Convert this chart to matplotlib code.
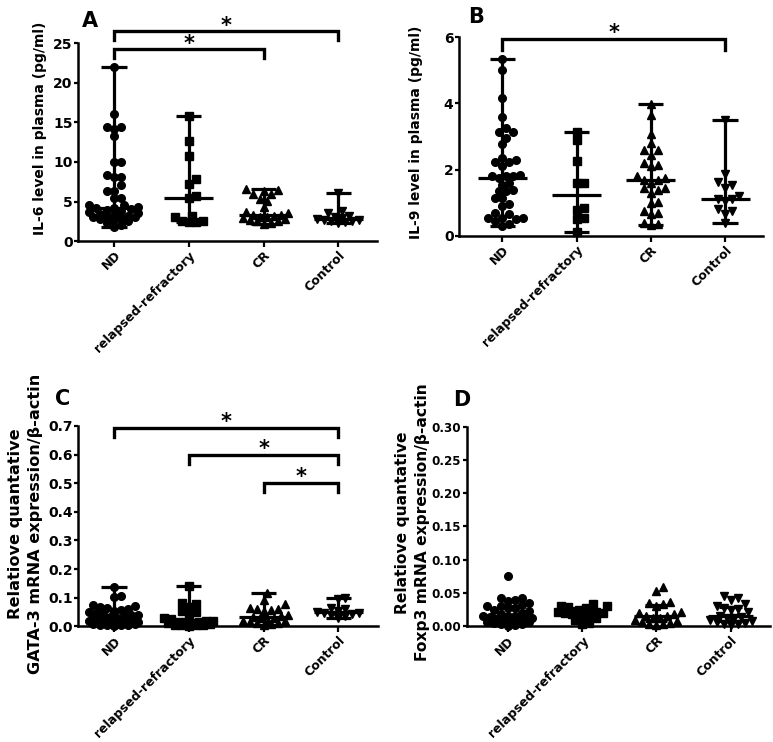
import numpy as np
import matplotlib.pyplot as plt

plt.rcParams['font.family'] = ['DejaVu Sans']
plt.rcParams['font.weight'] = 'bold'
plt.rcParams['axes.labelweight'] = 'bold'

groups = ["ND", "relapsed-refractory", "CR", "Control"]
markers = ["o", "s", "^", "v"]

# panel A: IL-6 (pg/ml)
il6_nd = [22.0, 16.1, 14.4, 14.4, 14.2, 13.3, 10.0, 10.0, 8.3, 8.1, 8.1, 7.1,
          6.35, 6.35, 5.5, 5.4, 4.6, 4.5, 4.3, 4.2, 4.2, 4.0, 3.9, 3.8, 3.7,
          3.5, 3.4, 3.3, 3.2, 3.0, 3.0, 3.0, 2.9, 2.8, 2.7, 2.5, 2.3, 2.0, 1.8]
il6_rr = [15.8, 12.7, 10.7, 7.8, 7.2, 5.7, 5.4, 3.2, 3.1, 2.6, 2.5, 2.4, 2.4]
il6_cr = [6.6, 6.5, 6.3, 5.9, 5.9, 5.3, 5.1, 4.3, 3.7, 3.5, 3.3, 3.3, 3.2,
          3.1, 3.0, 2.9, 2.8, 2.7, 2.6, 2.5, 2.3, 2.2]
il6_ctl = [6.1, 3.8, 3.6, 3.2, 3.1, 2.9, 2.8, 2.7, 2.7, 2.6, 2.5, 2.4, 2.3]

# panel B: IL-9 (pg/ml)
il9_nd = [5.35, 5.02, 4.17, 3.58, 3.27, 3.15, 3.15, 2.97, 2.77, 2.35, 2.3,
          2.22, 2.22, 2.12, 1.85, 1.8, 1.8, 1.8, 1.75, 1.6, 1.55, 1.4, 1.35,
          1.35, 1.15, 1.15, 0.95, 0.9, 0.7, 0.65, 0.55, 0.55, 0.55, 0.5, 0.45,
          0.35, 0.3]
il9_rr = [3.15, 2.9, 2.25, 1.6, 1.6, 0.85, 0.78, 0.55, 0.5, 0.12]
il9_cr = [3.97, 3.65, 3.07, 2.8, 2.6, 2.6, 2.44, 2.2, 2.14, 2.1, 1.8, 1.75,
          1.7, 1.7, 1.6, 1.45, 1.45, 1.4, 1.3, 1.03, 1.0, 0.75, 0.7, 0.65,
          0.4, 0.35, 0.33]
il9_ctl = [3.5, 1.87, 1.62, 1.55, 1.44, 1.2, 1.13, 1.1, 1.05, 0.8, 0.75, 0.65, 0.38]

# panel C: GATA-3 mRNA / beta-actin
gata_nd = [0.137, 0.105, 0.103, 0.075, 0.07, 0.068, 0.065, 0.06, 0.058, 0.055,
           0.05, 0.045, 0.042, 0.04, 0.038, 0.035, 0.033, 0.03, 0.03, 0.028,
           0.027, 0.025, 0.024, 0.022, 0.02, 0.02, 0.018, 0.016, 0.015, 0.013,
           0.012, 0.01, 0.009, 0.008, 0.007, 0.006, 0.005, 0.004, 0.003, 0.002]
gata_rr = [0.14, 0.082, 0.078, 0.068, 0.055, 0.05, 0.035, 0.03, 0.025, 0.02,
           0.018, 0.016, 0.015, 0.014, 0.012, 0.01, 0.008, 0.006, 0.005, 0.004,
           0.003, 0.002]
gata_cr = [0.115, 0.093, 0.077, 0.065, 0.062, 0.06, 0.058, 0.055, 0.04, 0.035,
           0.033, 0.03, 0.028, 0.025, 0.02, 0.018, 0.015, 0.012, 0.01, 0.008, 0.006]
gata_ctl = [0.1, 0.095, 0.065, 0.06, 0.055, 0.05, 0.048, 0.045, 0.042, 0.04,
            0.035, 0.03]

# panel D: Foxp3 mRNA / beta-actin
foxp3_nd = [0.076, 0.043, 0.042, 0.04, 0.038, 0.035, 0.032, 0.03, 0.03, 0.028,
            0.027, 0.025, 0.023, 0.02, 0.018, 0.016, 0.015, 0.015, 0.014, 0.013,
            0.012, 0.011, 0.01, 0.009, 0.008, 0.007, 0.006, 0.005, 0.004, 0.003,
            0.002, 0.001]
foxp3_rr = [0.033, 0.031, 0.03, 0.029, 0.027, 0.025, 0.022, 0.021, 0.02, 0.02,
            0.019, 0.018, 0.016, 0.012, 0.009, 0.005, 0.003]
foxp3_cr = [0.059, 0.053, 0.036, 0.035, 0.034, 0.031, 0.022, 0.02, 0.018, 0.016,
            0.015, 0.013, 0.012, 0.01, 0.008, 0.006, 0.005, 0.004, 0.003, 0.002]
foxp3_ctl = [0.046, 0.043, 0.039, 0.034, 0.031, 0.028, 0.026, 0.024, 0.022,
             0.016, 0.014, 0.013, 0.012, 0.01, 0.008, 0.007, 0.005, 0.004,
             0.003, 0.002]

yticks_a = [0, 5, 10, 15, 20, 25]
yticks_b = [0, 2, 4, 6]
yticks_c = [0.0, 0.1, 0.2, 0.3, 0.4, 0.5, 0.6, 0.7]
yticks_d = [0.00, 0.05, 0.10, 0.15, 0.20, 0.25, 0.30]

# significance brackets: (group i, group j)
sig_a = [(0, 3), (0, 2)]
sig_b = [(0, 3)]
sig_c = [(0, 3), (1, 3), (2, 3)]


def swarm_x(ax, pos, vals, diam=7.0, max_off=25.0):
    # greedy beeswarm in pixel space, limited width (points may overlap)
    vals = np.asarray(vals)
    step = diam * 0.5
    cands = [0.0]
    k = 1
    while k * step <= max_off:
        cands += [k * step, -k * step]
        k += 1
    placed = []
    offs = np.zeros(len(vals))
    for idx in np.argsort(vals):
        yd = ax.transData.transform((pos, vals[idx]))[1]
        best, best_d = 0.0, -1
        for c in cands:
            d = min([np.hypot(c - px, yd - py) for px, py in placed] or [99])
            if d >= diam:
                best = c
                break
            if d > best_d:
                best, best_d = c, d
        placed.append((best, yd))
        offs[idx] = best
    ppu = ax.transData.transform((1, 0))[0] - ax.transData.transform((0, 0))[0]
    return pos + offs / ppu


def draw_panel(ax, data, yticks, fmt, ylabel, xlim, iqr=False, sig=(),
               sig_levels=(), leg=0.045, label_size=10.0, tick_size=10):
    ax.set_xlim(*xlim)
    ax.set_ylim(yticks[0], yticks[-1])
    for i, vals in enumerate(data):
        xs = swarm_x(ax, i, vals)
        ax.plot(xs, vals, ls='none', marker=markers[i], ms=5.5, color='black',
                clip_on=False, zorder=3)
        med = np.median(vals)
        if iqr:
            lo, hi = np.percentile(vals, [25, 75])
            cw, mw = 0.15, 0.3
        else:
            lo, hi = min(vals), max(vals)
            cw, mw = 0.17, 0.33
        kw = dict(color='black', lw=2.3, solid_capstyle='butt', zorder=4, clip_on=False)
        ax.plot([i, i], [lo, hi], **kw)
        ax.plot([i - cw, i + cw], [hi, hi], **kw)
        ax.plot([i - cw, i + cw], [lo, lo], **kw)
        ax.plot([i - mw, i + mw], [med, med], **kw)

    top = yticks[-1]
    for (a, b), lev in zip(sig, sig_levels):
        y = lev * top
        ax.plot([a, a, b, b], [y - leg * top, y, y, y - leg * top], color='black',
                lw=2.4, clip_on=False, solid_joinstyle='miter')
        ax.text((a + b) / 2, y - 0.022 * top, '*', ha='center', va='bottom',
                fontsize=15, fontweight='bold')

    ax.set_xticks(range(len(groups)))
    ax.set_xticklabels(groups, rotation=45, ha='right', rotation_mode='anchor',
                       fontsize=9)
    ax.set_yticks(yticks)
    ax.set_yticklabels([fmt.format(t) for t in yticks], fontsize=tick_size)
    ax.set_ylabel(ylabel, fontsize=label_size, linespacing=1.45)
    ax.spines['top'].set_visible(False)
    ax.spines['right'].set_visible(False)
    ax.spines['left'].set_linewidth(1.8)
    ax.spines['bottom'].set_linewidth(1.8)
    ax.tick_params(axis='y', direction='out', width=1.6, length=3, pad=1)
    ax.tick_params(axis='x', direction='out', width=1.6, length=4, pad=1.5)


fig = plt.figure(figsize=(7.73, 7.42), dpi=100)

axA = fig.add_axes([0.101, 0.675, 0.387, 0.267])
draw_panel(axA, [il6_nd, il6_rr, il6_cr, il6_ctl], yticks_a, '{:.0f}',
           'IL-6 level in plasma (pg/ml)', (-0.48, 3.52),
           sig=sig_a, sig_levels=[1.06, 0.968])
axA.yaxis.set_label_coords(-0.104, 0.57)

axB = fig.add_axes([0.594, 0.682, 0.393, 0.268])
draw_panel(axB, [il9_nd, il9_rr, il9_cr, il9_ctl], yticks_b, '{:.0f}',
           'IL-9 level in plasma (pg/ml)', (-0.58, 3.51),
           sig=sig_b, sig_levels=[0.99], leg=0.055)
axB.yaxis.set_label_coords(-0.118, 0.52)

axC = fig.add_axes([0.101, 0.156, 0.388, 0.270])
draw_panel(axC, [gata_nd, gata_rr, gata_cr, gata_ctl], yticks_c, '{:.1f}',
           'Relatiove quantative\nGATA-3 mRNA expression/\u03b2-actin',
           (-0.48, 3.53), sig=sig_c, sig_levels=[0.99, 0.855, 0.715],
           label_size=11.6)
axC.yaxis.set_label_coords(-0.117, 0.51)

axD = fig.add_axes([0.604, 0.156, 0.392, 0.269])
draw_panel(axD, [foxp3_nd, foxp3_rr, foxp3_cr, foxp3_ctl], yticks_d, '{:.2f}',
           'Relatiove quantative\nFoxp3 mRNA expression/\u03b2-actin',
           (-0.55, 3.53), iqr=True, label_size=11.2, tick_size=8.6)
axD.yaxis.set_label_coords(-0.122, 0.52)

for lab, x, y in [('A', 0.106, 0.985), ('B', 0.605, 0.99),
                  ('C', 0.071, 0.476), ('D', 0.586, 0.474)]:
    fig.text(x, y, lab, fontsize=15, fontweight='bold', ha='left', va='top')

fig.savefig('out.png', dpi=100)
